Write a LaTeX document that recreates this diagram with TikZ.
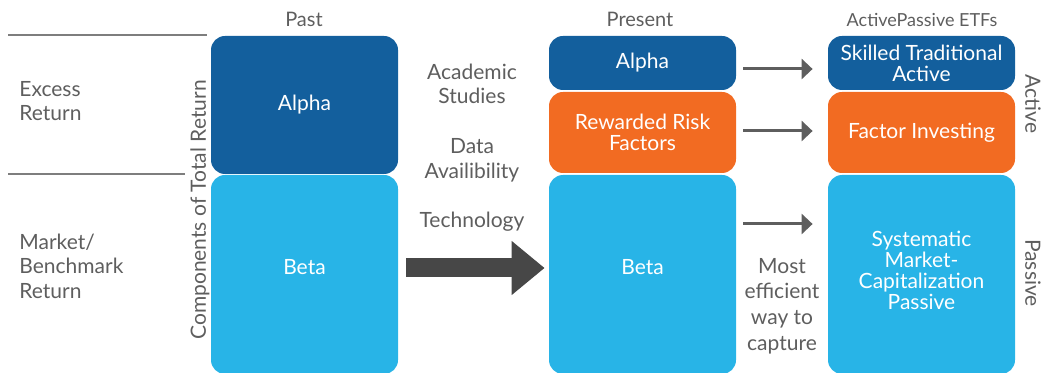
\documentclass[tikz,border=0pt]{standalone}
\usepackage{fontspec}
\setmainfont{Lato}
\usepackage{tikz}
\usetikzlibrary{arrows.meta}
\usetikzlibrary{positioning}
\definecolor{darkblue}{HTML}{135F9D}
\definecolor{lightblue}{HTML}{28B4E7}
\definecolor{riskorange}{HTML}{F26B22}
\definecolor{textgray}{HTML}{5E5E5E}
\definecolor{arrowgray}{HTML}{474747}
\tikzset{
  x = 0.5pt, y = -0.5pt,
  box/.style = {rectangle, rounded corners = 7pt, minimum width = 93.5pt,
    inner sep = 0pt, text = white, align = center,
    font = \fontsize{10.5}{10.5}\selectfont},
  label/.style = {text = textgray, align = center, inner sep = 0pt,
    font = \fontsize{10.5}{12.3}\selectfont},
  heading/.style = {text = textgray, inner sep = 0pt,
    font = \fontsize{10}{12}\selectfont},
  rule/.style = {draw = textgray!80, line width = 0.6pt},
  flow/.style = {draw = textgray, line width = 1.5pt,
    -{Triangle[length = 5.5pt, width = 10pt]}},
  bigflow/.style = {draw = arrowgray, line width = 9.5pt,
    -{Triangle[length = 16.5pt, width = 26pt]}},
}
\begin{document}
\begin{tikzpicture}
  \useasboundingbox (0,0) rectangle (1042,373);
  % nodes
  \node [box, fill = darkblue, minimum height = 69pt] (pastalpha) at (304.5,105) {Alpha};
  \node [box, fill = lightblue, minimum height = 99.5pt, text depth = 8pt] (pastbeta) at (304.5,274.5) {Beta};
  \node [box, fill = darkblue, minimum height = 27pt] (presalpha) at (642.5,63) {Alpha};
  \node [box, fill = riskorange, minimum height = 40.5pt] (presrisk) at (642.5,132.5) {Rewarded Risk\\Factors};
  \node [box, fill = lightblue, minimum height = 99.5pt, text depth = 8pt] (presbeta) at (642.5,274.5) {Beta};
  \node [box, fill = darkblue, minimum height = 27pt] (skilled) at (921.5,63) {Skilled Traditional\\Active};
  \node [box, fill = riskorange, minimum height = 40.5pt] (factor) at (921.5,132.5) {Factor Investing};
  \node [box, fill = lightblue, minimum height = 99.5pt, text depth = 4.5pt] (passive) at (921.5,274.5) {Systematic\\Market-\\Capitalization\\Passive};

  \node [heading] (past) at (304,19) {Past};
  \node [heading] (present) at (640,19) {Present};
  \node [heading, font = \fontsize{9}{11}\selectfont] (etfs) at (922,20) {ActivePassive ETFs};

  \node [label, anchor = west, align = left] (excess) at (19,101) {Excess\\Return};
  \node [label, anchor = west, align = left] (market) at (19,266) {Market/\\Benchmark\\Return};
  \node [label, rotate = 90] (components) at (200,210) {Components of Total Return};

  \node [label] (academic) at (472,84) {Academic\\Studies};
  \node [label] (data) at (472,160) {Data\\Availibility};
  \node [label] (tech) at (472,222) {Technology};
  \node [label, font = \fontsize{10.5}{12.8}\selectfont] (efficient) at (782,306) {Most\\efficient\\way to\\capture};

  \node [label, rotate = -90] (active) at (1033,104) {Active};
  \node [label, rotate = -90] (passivelbl) at (1033,273) {Passive};

  % rules
  \draw [rule] (8,35) -- (207,35);
  \draw [rule] (8,174) -- (185,174);

  % edges
  \draw [bigflow] ([shift = {(4pt,3.25pt)}]pastbeta.east) -- ([shift = {(-2pt,3.25pt)}]presbeta.west);
  \draw [flow] ([shift = {(3.5pt,-3pt)}]presalpha.east) -- ([shift = {(-7.5pt,-3pt)}]skilled.west);
  \draw [flow] ([shift = {(3.5pt,0.75pt)}]presrisk.east) -- ([shift = {(-7.5pt,0.75pt)}]factor.west);
  \draw [flow] ([shift = {(3.5pt,25.25pt)}]presbeta.east) -- ([shift = {(-7.5pt,25.25pt)}]passive.west);
\end{tikzpicture}
\end{document}
